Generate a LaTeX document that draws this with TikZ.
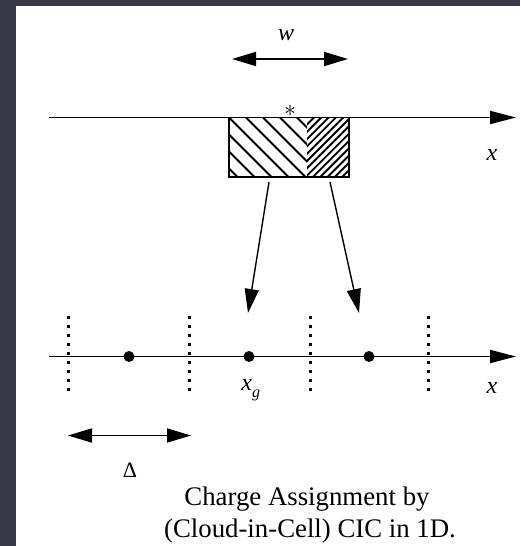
\documentclass[tikz,border=0pt]{standalone}
\usepackage{fontspec}
\setmainfont{Liberation Serif}
\usetikzlibrary{arrows.meta}

\definecolor{fondsombre}{RGB}{56,57,70}

\tikzset{
pointe/.style={-{Triangle[length=12pt,width=7pt]}},
doublepointe/.style={{Triangle[length=12pt,width=7pt]}-{Triangle[length=12pt,width=7pt]}},
axe/.style={line width=0.9pt,-{Triangle[length=13pt,width=6.5pt]}},
bordcellule/.style={dash pattern=on 1.5pt off 3pt,line width=1.5pt},
noeudgrille/.style={circle,fill=black,inner sep=0pt,minimum size=5.5pt},
etiquette/.style={inner sep=0pt,font=\fontsize{12}{14}\selectfont\itshape},
legende/.style={inner sep=0pt,font=\fontsize{13.4}{16}\selectfont},
hachure/.style={line width=0.95pt}
}

\begin{document}
\begin{tikzpicture}[x=0.5pt,y=-0.5pt]

% Fond sombre et panneau blanc
\fill[fondsombre] (0,0) rectangle (520,546);
\fill[white] (16,6) rectangle (520,546);
\useasboundingbox (0,0) rectangle (520,546);

% Largeur du nuage
\node[etiquette,anchor=base] (w) at (286,40) {w};
\coordinate (wgauche) at (232,59);
\coordinate (wdroite) at (348,59);
\draw[doublepointe,line width=0.9pt] (wgauche) -- (wdroite);

% Axe superieur
\coordinate (haut0) at (49,117.5);
\coordinate (haut1) at (516,117.5);
\draw[axe] (haut0) -- (haut1);
\node[etiquette,anchor=base] (xhaut) at (492,160) {x};

% Nuage hachure (partie gauche)
\begin{scope}
\clip (229,117.5) rectangle (307,177);
\foreach \a in {161,178,...,310}
  \draw[hachure] (\a,117.5) -- ++(60,60);
\end{scope}

% Nuage hachure (partie droite)
\begin{scope}
\clip (307,117.5) rectangle (349,177);
\foreach \b in {247.2,254.5,...,352}
  \draw[hachure] (\b,177) -- ++(60,-60);
\end{scope}

% Contour du nuage et particule
\node[
draw,
line width=0.9pt,
minimum width=60pt,
minimum height=29.75pt,
inner sep=0pt
] (nuage) at (289,147.25) {};
\node[inner sep=0pt,font=\fontsize{12}{14}\selectfont] (etoile) at (290,111) {$\ast$};

% Fleches d'affectation
\coordinate (depgauche) at (269,182);
\coordinate (depdroite) at (330,182);
\coordinate (arrgauche) at (248,313);
\coordinate (arrdroite) at (359,313);
\draw[pointe,line width=0.7pt] (depgauche) -- (arrgauche);
\draw[pointe,line width=0.7pt] (depdroite) -- (arrdroite);

% Limites des cellules
\foreach \xb in {68,189,310,428}
  \draw[bordcellule] (\xb,315.5) -- (\xb,392);

% Axe de la grille
\coordinate (bas0) at (49,356.5);
\coordinate (bas1) at (516,356.5);
\draw[axe] (bas0) -- (bas1);
\node[noeudgrille] (g1) at (129,356.5) {};
\node[noeudgrille] (g2) at (249,356.5) {};
\node[noeudgrille] (g3) at (369,356.5) {};
\node[etiquette,anchor=base west] (xg) at (241,390) {x\raisebox{-3.5pt}{\fontsize{8}{8}\selectfont g}};
\node[etiquette,anchor=base] (xbas) at (492,393) {x};

% Pas de la grille
\coordinate (dgauche) at (68,435.5);
\coordinate (ddroite) at (191,435.5);
\draw[doublepointe,line width=0.9pt] (dgauche) -- (ddroite);
\node[inner sep=0pt,anchor=base,font=\fontsize{11}{13}\selectfont] (delta) at (130,477) {Δ};

% Legende
\node[legende,anchor=base] (legende1) at (307,505) {Charge Assignment by};
\node[legende,anchor=base] (legende2) at (310,537) {(Cloud-in-Cell) CIC in 1D.};

\end{tikzpicture}
\end{document}
